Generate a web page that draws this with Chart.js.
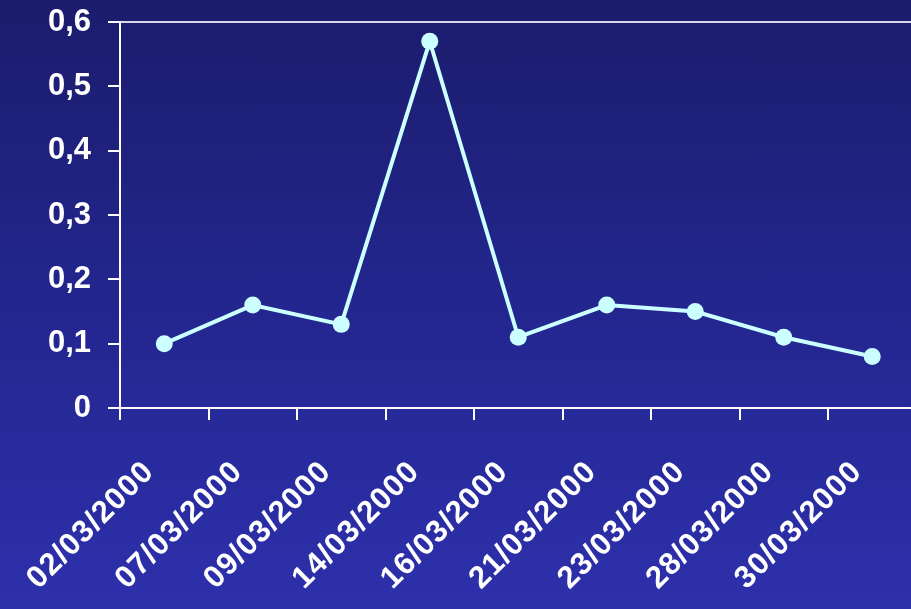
<!DOCTYPE html>
<html><head><meta charset="utf-8">
<script src="https://cdn.jsdelivr.net/npm/chart.js@4"></script>
<style>
html,body{margin:0;padding:0;width:911px;height:609px;overflow:hidden;
background:linear-gradient(to bottom,#1b1c6c 0%,#23268e 50%,#2d30ab 100%);}
#wrap{position:absolute;left:0;top:0;width:925px;height:609px;}
</style></head><body>
<div id="wrap"><canvas id="c" width="925" height="609"></canvas></div>
<script>
const categories = ["02/03/2000","07/03/2000","09/03/2000","14/03/2000","16/03/2000","21/03/2000","23/03/2000","28/03/2000","30/03/2000"];
const values = [0.10, 0.16, 0.13, 0.57, 0.11, 0.16, 0.15, 0.11, 0.08];
const yTicks = [0, 0.1, 0.2, 0.3, 0.4, 0.5, 0.6];

const yFont = {family: "'Liberation Sans', Arial, sans-serif", size: 31, weight: 'bold'};
const xFont = {family: "'Liberation Sans', Arial, sans-serif", size: 31, weight: 'bold'};

function spaced(scale, px) {
  if (scale._spacedPatched) return;
  const orig = scale.drawLabels;
  scale.drawLabels = function (ca) {
    const ctx = this.ctx;
    ctx.save();
    ctx.letterSpacing = px;
    orig.call(this, ca);
    ctx.restore();
  };
  scale._spacedPatched = true;
}

new Chart(document.getElementById('c'), {
  type: 'line',
  data: {
    labels: categories,
    datasets: [{
      data: values,
      borderColor: '#ccffff',
      backgroundColor: '#ccffff',
      borderWidth: 4,
      pointRadius: 8.5,
      pointHoverRadius: 8.5,
      pointBackgroundColor: '#ccffff',
      pointBorderWidth: 0,
      tension: 0
    }]
  },
  options: {
    responsive: false,
    animation: false,
    layout: {padding: {top: 22, left: 0, right: 0, bottom: 0}},
    plugins: {legend: {display: false}, tooltip: {enabled: false}},
    scales: {
      x: {
        type: 'category',
        offset: true,
        grid: {display: true, offset: true, drawOnChartArea: false, color: '#ffffff', tickColor: '#ffffff', tickLength: 12, lineWidth: 2},
        border: {display: true, color: '#ffffff', width: 2},
        ticks: {color: '#ffffff', font: xFont, minRotation: 45, maxRotation: 45, padding: 34, labelOffset: -15, autoSkip: false},
        afterFit: s => { s.height = 609 - 408; s.paddingLeft = 0; s.paddingRight = 0; spaced(s, '1px'); }
      },
      y: {
        min: 0, max: 0.6,
        afterBuildTicks: s => { s.ticks = yTicks.map(v => ({value: v})); },
        grid: {
          drawOnChartArea: true,
          color: c => (c.tick && Math.abs(c.tick.value - 0.6) < 1e-9) ? '#d6d6e6' : 'rgba(0,0,0,0)',
          tickColor: '#ffffff', tickLength: 12, lineWidth: 2
        },
        border: {display: true, color: '#ffffff', width: 2},
        ticks: {color: '#ffffff', font: yFont, padding: 17,
          callback: v => v === 0 ? '0' : String(Math.round(v*10)/10).replace('.', ',')},
        afterFit: s => { s.width = 120; s.paddingTop = 0; s.paddingBottom = 0; }
      }
    }
  }
});
</script>
</body></html>
